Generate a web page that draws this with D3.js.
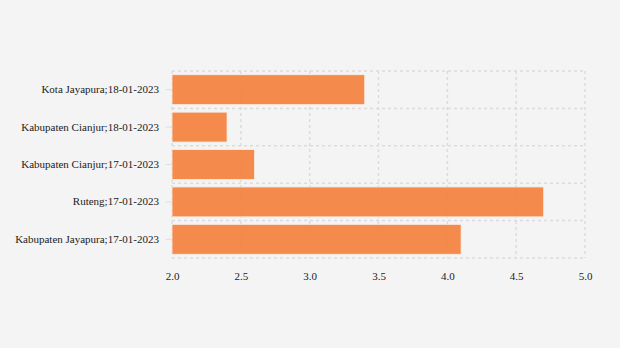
<!DOCTYPE html>
<html>
<head>
<meta charset="utf-8">
<script src="https://cdn.jsdelivr.net/npm/d3@7"></script>
<style>
  html, body { margin: 0; padding: 0; background: #f4f4f4; }
  svg { display: block; font-family: "Liberation Serif", "Times New Roman", serif; }
</style>
</head>
<body>
<svg id="chart" width="620" height="348"></svg>
<script>
// Categories (region;date) and their values
const categories = [
  "Kota Jayapura;18-01-2023",
  "Kabupaten Cianjur;18-01-2023",
  "Kabupaten Cianjur;17-01-2023",
  "Ruteng;17-01-2023",
  "Kabupaten Jayapura;17-01-2023"
];
const values = [3.4, 2.4, 2.6, 4.7, 4.1];
const xTicks = [2.0, 2.5, 3.0, 3.5, 4.0, 4.5, 5.0];

const svg = d3.select("#chart");
const margin = { top: 71, right: 35, bottom: 90, left: 172 };
const W = 620, H = 348;
const innerW = W - margin.left - margin.right;
const innerH = H - margin.top - margin.bottom;

const g = svg.append("g").attr("transform", `translate(${margin.left},${margin.top})`);

const x = d3.scaleLinear().domain([2, 5]).range([0, innerW]);
const y = d3.scaleBand().domain(categories).range([0, innerH]).paddingInner(0.2).paddingOuter(0.1);

// Vertical grid lines at each x tick
g.append("g").selectAll("line").data(xTicks).join("line")
  .attr("x1", d => x(d)).attr("x2", d => x(d))
  .attr("y1", 0).attr("y2", innerH)
  .attr("stroke", "#dcdcdc").attr("stroke-width", 1.5).attr("stroke-dasharray", "3,3");

// Horizontal grid lines at band boundaries
const boundaries = d3.range(categories.length + 1).map(i => i * innerH / categories.length);
g.append("g").selectAll("line").data(boundaries).join("line")
  .attr("x1", 0).attr("x2", innerW)
  .attr("y1", d => d).attr("y2", d => d)
  .attr("stroke", "#dcdcdc").attr("stroke-width", 1.5).attr("stroke-dasharray", "3,3");

// Bars
g.append("g").selectAll("rect").data(categories).join("rect")
  .attr("x", x(2))
  .attr("y", d => y(d))
  .attr("height", y.bandwidth())
  .attr("width", (d, i) => x(values[i]) - x(2))
  .attr("fill", "#f47f3a")
  .attr("fill-opacity", 0.9)
  .attr("stroke", "#f7f0ea")
  .attr("stroke-width", 0.8);

// Y axis
const yAxis = g.append("g")
  .call(d3.axisLeft(y).tickSize(6).tickPadding(7));
yAxis.select(".domain").remove();
yAxis.selectAll(".tick line").attr("stroke", "#dddddd");
yAxis.selectAll(".tick text").attr("fill", "#222").style("font-size", "11px")
  .style("font-family", "'Liberation Serif', serif");

// X axis
const xAxis = g.append("g")
  .attr("transform", `translate(0,${innerH})`)
  .call(d3.axisBottom(x).tickValues(xTicks).tickFormat(d3.format(".1f")).tickSize(0).tickPadding(14));
xAxis.select(".domain").remove();
xAxis.selectAll(".tick text").attr("fill", "#222").style("font-size", "11px")
  .style("font-family", "'Liberation Serif', serif");
</script>
</body>
</html>
